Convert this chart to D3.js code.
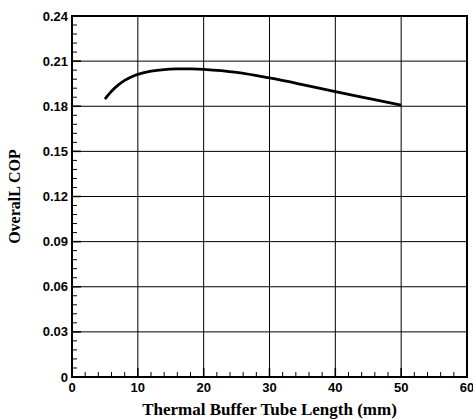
<!DOCTYPE html>
<html>
<head>
<meta charset="utf-8">
<script src="https://cdn.jsdelivr.net/npm/d3@7"></script>
<style>
  body { margin: 0; background: #fff; }
  svg { display: block; }
  .tick-label { font-family: "Liberation Sans", Arial, sans-serif; font-weight: bold; font-size: 13px; }
  .axis-title { font-family: "Liberation Serif", "Times New Roman", serif; font-weight: bold; }
</style>
</head>
<body>
<svg id="chart" width="473" height="419"></svg>
<script>
// tube length (mm) and overall COP
const tubeLength = [5, 6, 7, 8, 9, 10, 12, 14, 16, 18, 20, 25, 30, 35, 40, 45, 50];
const overallCOP = [0.1848, 0.1900, 0.1940, 0.1972, 0.1995, 0.2012, 0.2033, 0.2044, 0.2048, 0.2048, 0.2045, 0.2025, 0.1988, 0.1944, 0.1897, 0.1852, 0.1808];

const xTicks = [0, 10, 20, 30, 40, 50, 60];
const yTicks = [0, 0.03, 0.06, 0.09, 0.12, 0.15, 0.18, 0.21, 0.24];
const yTickLabels = ["0", "0.03", "0.06", "0.09", "0.12", "0.15", "0.18", "0.21", "0.24"];

const plotL = 72, plotR = 467, plotT = 16, plotB = 377;

const svg = d3.select("#chart");
const x = d3.scaleLinear().domain([0, 60]).range([plotL, plotR]);
const y = d3.scaleLinear().domain([0, 0.24]).range([plotB, plotT]);

// grid lines
svg.append("g").selectAll("line")
    .data(xTicks.slice(1, -1))
    .join("line")
    .attr("x1", d => x(d)).attr("x2", d => x(d))
    .attr("y1", plotT).attr("y2", plotB)
    .attr("stroke", "#000").attr("stroke-width", 1);

svg.append("g").selectAll("line")
    .data(yTicks.slice(1, -1))
    .join("line")
    .attr("x1", plotL).attr("x2", plotR)
    .attr("y1", d => y(d)).attr("y2", d => y(d))
    .attr("stroke", "#000").attr("stroke-width", 1);

// minor ticks (inward)
const xMinor = d3.range(0, 60.001, 2).filter(v => v % 10 !== 0);
const yMinor = d3.range(0, 0.2401, 0.006).filter(v => Math.abs(v / 0.03 - Math.round(v / 0.03)) > 1e-6);

svg.append("g").selectAll("line")
    .data(xMinor)
    .join("line")
    .attr("x1", d => x(d)).attr("x2", d => x(d))
    .attr("y1", plotB).attr("y2", plotB - 5)
    .attr("stroke", "#000").attr("stroke-width", 1);

svg.append("g").selectAll("line")
    .data(yMinor)
    .join("line")
    .attr("x1", plotL).attr("x2", plotL + 5)
    .attr("y1", d => y(d)).attr("y2", d => y(d))
    .attr("stroke", "#000").attr("stroke-width", 1);

// major ticks (inward, slightly longer)
svg.append("g").selectAll("line")
    .data(xTicks)
    .join("line")
    .attr("x1", d => x(d)).attr("x2", d => x(d))
    .attr("y1", plotB).attr("y2", plotB - 9)
    .attr("stroke", "#000").attr("stroke-width", 1.5);

svg.append("g").selectAll("line")
    .data(yTicks)
    .join("line")
    .attr("x1", plotL).attr("x2", plotL + 9)
    .attr("y1", d => y(d)).attr("y2", d => y(d))
    .attr("stroke", "#000").attr("stroke-width", 1.5);

// frame
svg.append("rect")
    .attr("x", plotL).attr("y", plotT)
    .attr("width", plotR - plotL).attr("height", plotB - plotT)
    .attr("fill", "none").attr("stroke", "#000").attr("stroke-width", 2);

// curve
const line = d3.line()
    .x((d, i) => x(tubeLength[i]))
    .y(d => y(d))
    .curve(d3.curveCatmullRom);

svg.append("path")
    .datum(overallCOP)
    .attr("d", line)
    .attr("fill", "none")
    .attr("stroke", "#000")
    .attr("stroke-width", 2.8);

// tick labels
svg.append("g").selectAll("text")
    .data(xTicks)
    .join("text")
    .attr("class", "tick-label")
    .attr("x", d => x(d)).attr("y", plotB + 15)
    .attr("text-anchor", "middle")
    .text(d => d);

svg.append("g").selectAll("text")
    .data(yTicks)
    .join("text")
    .attr("class", "tick-label")
    .attr("x", plotL - 4).attr("y", d => y(d) + 4.5)
    .attr("text-anchor", "end")
    .text((d, i) => yTickLabels[i]);

// axis titles
svg.append("text")
    .attr("class", "axis-title")
    .attr("font-size", 17)
    .attr("x", (plotL + plotR) / 2).attr("y", 415)
    .attr("text-anchor", "middle")
    .text("Thermal Buffer Tube Length (mm)");

svg.append("text")
    .attr("class", "axis-title")
    .attr("font-size", 16)
    .attr("transform", `translate(20, ${(plotT + plotB) / 2}) rotate(-90)`)
    .attr("text-anchor", "middle")
    .text("OveralL  COP");
</script>
</body>
</html>
